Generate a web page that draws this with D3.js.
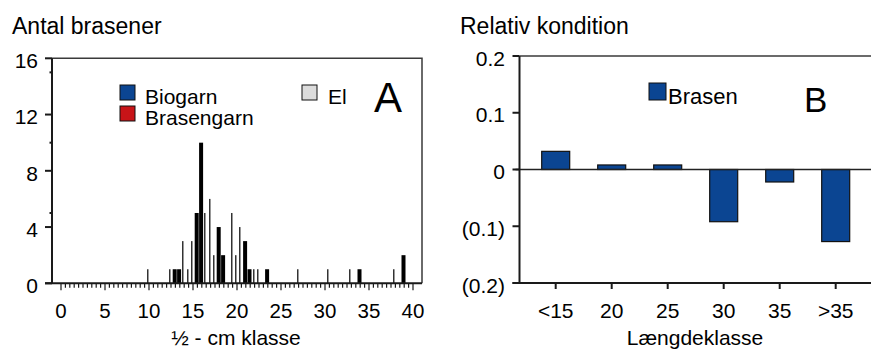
<!DOCTYPE html>
<html>
<head>
<meta charset="utf-8">
<script src="https://cdn.jsdelivr.net/npm/d3@7"></script>
<style>
  html, body { margin: 0; padding: 0; background: #fff; }
  svg { display: block; font-family: "Liberation Sans", Arial, sans-serif; }
  .axis-line { stroke: #1a1a1a; stroke-width: 2; fill: none; }
  .frame { stroke: #3a3a3a; stroke-width: 1.5; fill: none; }
</style>
</head>
<body>
<svg id="chart" width="871" height="349"></svg>
<script>
// Panel A: number of bream per half-cm length class
const halfCmTicks = [0, 5, 10, 15, 20, 25, 30, 35, 40];
const countTicks = [0, 4, 8, 12, 16];
const countMinorTicks = [5, 10, 15];

const biogarnClass = [13, 13.5, 15.5, 16, 18, 18.5, 21, 21.5, 23.5, 34, 39];
const biogarnCount = [1, 1, 5, 10, 4, 2, 3, 1, 1, 1, 2];
const brasengarnClass = [];
const brasengarnCount = [];
const elClass = [10, 12.5, 14, 14.5, 15, 16.5, 17, 17.5, 19.5, 20, 20.5, 22, 22.5, 27, 30.5, 33, 38];
const elCount = [1, 1, 3, 1, 3, 5, 6, 2, 5, 2, 4, 1, 1, 1, 1, 1, 1];

// Panel B: relative condition per length class
const lengthClasses = ["<15", "20", "25", "30", "35", ">35"];
const relCondition = [0.032, 0.008, 0.008, -0.092, -0.022, -0.127];
const conditionTicks = [0.2, 0.1, 0, -0.1, -0.2];

const COLORS = {
  biogarn: "#0b4592",
  brasengarn: "#c81418",
  el: "#dcdcdc",
  brasen: "#0b4592"
};

const svg = d3.select("#chart");

function fmtCondition(v) {
  if (Math.abs(v) < 1e-9) return "0";
  return v < 0 ? `(${d3.format(".1f")(-v)})` : d3.format(".1f")(v);
}

function drawPanelA() {
  const x = d3.scaleLinear().domain([0, 40]).range([61, 413]);
  const y = d3.scaleLinear().domain([0, 16]).range([283.3, 58.3]);
  const left = 52, right = 422;
  const g = svg.append("g");

  g.append("text").attr("x", 12).attr("y", 34).attr("font-size", 23).text("Antal brasener");

  // frame
  g.append("path").attr("class", "frame")
    .attr("d", `M${left},${y(16)}H${right}V${y(0)}`);

  // El bars are very thin, so they read as grey lines
  const elData = elClass.map((c, i) => ({ c, n: elCount[i] }));
  g.selectAll(".el").data(elData).enter().append("rect")
    .attr("class", "el")
    .attr("x", (d) => Math.round(x(d.c) - 2))
    .attr("width", 1.5)
    .attr("y", (d) => y(d.n))
    .attr("height", (d) => y(0) - y(d.n))
    .attr("fill", "#333");

  const bioData = biogarnClass.map((c, i) => ({ c, n: biogarnCount[i] }));
  g.selectAll(".bio").data(bioData).enter().append("rect")
    .attr("class", "bio")
    .attr("x", (d) => x(d.c) - 2.7)
    .attr("width", 4)
    .attr("y", (d) => y(d.n))
    .attr("height", (d) => y(0) - y(d.n))
    .attr("fill", "#000");

  const brData = brasengarnClass.map((c, i) => ({ c, n: brasengarnCount[i] }));
  g.selectAll(".bras").data(brData).enter().append("rect")
    .attr("x", (d) => x(d.c) - 1)
    .attr("width", 1.4)
    .attr("y", (d) => y(d.n))
    .attr("height", (d) => y(0) - y(d.n))
    .attr("fill", COLORS.brasengarn);

  // y axis
  g.append("line").attr("class", "axis-line")
    .attr("x1", left).attr("x2", left).attr("y1", y(16)).attr("y2", y(0));
  g.selectAll(".ytick").data(countTicks).enter().append("line")
    .attr("class", "axis-line")
    .attr("x1", left - 7).attr("x2", left)
    .attr("y1", (d) => y(d)).attr("y2", (d) => y(d));
  g.selectAll(".yminor").data(countMinorTicks).enter().append("line")
    .attr("class", "axis-line")
    .attr("x1", left - 2.5).attr("x2", left)
    .attr("y1", (d) => y(d)).attr("y2", (d) => y(d));
  g.selectAll(".ylab").data(countTicks).enter().append("text")
    .attr("x", 38).attr("y", (d) => y(d) + 9.7)
    .attr("text-anchor", "end").attr("font-size", 21)
    .text((d) => d);

  // x axis with half-cm ticks
  g.append("line").attr("class", "axis-line")
    .attr("x1", left - 7).attr("x2", right).attr("y1", y(0)).attr("y2", y(0));
  const minor = d3.range(0, 40.01, 0.5);
  g.selectAll(".xtick").data(minor).enter().append("line")
    .attr("stroke", "#1a1a1a").attr("stroke-width", 1.2)
    .attr("x1", (d) => x(d)).attr("x2", (d) => x(d))
    .attr("y1", y(0))
    .attr("y2", (d) => y(0) + (d % 5 === 0 ? 7 : 4.5));
  g.selectAll(".xlab").data(halfCmTicks).enter().append("text")
    .attr("x", (d) => x(d)).attr("y", 318)
    .attr("text-anchor", "middle").attr("font-size", 20.5)
    .text((d) => d);

  g.append("text").attr("x", 236).attr("y", 345)
    .attr("text-anchor", "middle").attr("font-size", 21)
    .text("½ - cm klasse");

  // legend
  const legend = [
    { label: "Biogarn", color: COLORS.biogarn, x: 120, y: 85 },
    { label: "Brasengarn", color: COLORS.brasengarn, x: 120, y: 106 },
    { label: "El", color: COLORS.el, x: 302, y: 85 }
  ];
  legend.forEach((d) => {
    g.append("rect").attr("x", d.x).attr("y", d.y).attr("width", 15).attr("height", 15)
      .attr("fill", d.color).attr("stroke", "#111").attr("stroke-width", 1);
    g.append("text").attr("x", d.x + (d.label === "El" ? 26 : 25)).attr("y", d.y + 18.5)
      .attr("font-size", 21).text(d.label);
  });

  g.append("text").attr("x", 374).attr("y", 112).attr("font-size", 42).text("A");
}

function drawPanelB() {
  const x = d3.scaleBand().domain(lengthClasses).range([520, 871.4]).paddingOuter(0.1375);
  const y = d3.scaleLinear().domain([-0.2, 0.2]).range([283, 56]);
  const left = 519.5;
  const g = svg.append("g");

  g.append("text").attr("x", 460).attr("y", 33.5).attr("font-size", 23).text("Relativ kondition");

  // frame top
  g.append("line").attr("class", "frame")
    .attr("x1", left).attr("x2", 871).attr("y1", y(0.2)).attr("y2", y(0.2));

  const data = lengthClasses.map((c, i) => ({ c, v: relCondition[i] }));
  const bw = x.bandwidth() * 0.5;
  g.selectAll(".bar").data(data).enter().append("rect")
    .attr("x", (d) => x(d.c) + (x.bandwidth() - bw) / 2)
    .attr("width", bw)
    .attr("y", (d) => y(Math.max(0, d.v)))
    .attr("height", (d) => Math.abs(y(d.v) - y(0)))
    .attr("fill", COLORS.brasen)
    .attr("stroke", "#111").attr("stroke-width", 1.2);

  // zero line
  g.append("line").attr("stroke", "#222").attr("stroke-width", 1.6)
    .attr("x1", left - 4).attr("x2", 871).attr("y1", y(0)).attr("y2", y(0));

  // y axis
  g.append("line").attr("class", "axis-line")
    .attr("x1", left).attr("x2", left).attr("y1", y(0.2)).attr("y2", y(-0.2));
  g.selectAll(".ytick").data(conditionTicks).enter().append("line")
    .attr("class", "axis-line")
    .attr("x1", left - 7).attr("x2", left)
    .attr("y1", (d) => y(d)).attr("y2", (d) => y(d));
  g.selectAll(".ylab").data(conditionTicks).enter().append("text")
    .attr("x", 505).attr("y", (d) => y(d) + 9.5)
    .attr("text-anchor", "end").attr("font-size", 21)
    .text(fmtCondition);

  // x axis
  g.append("line").attr("class", "axis-line")
    .attr("x1", left - 7).attr("x2", 871).attr("y1", y(-0.2)).attr("y2", y(-0.2));
  g.selectAll(".xtick").data(lengthClasses).enter().append("line")
    .attr("class", "axis-line")
    .attr("x1", (d) => x(d) + x.bandwidth() / 2).attr("x2", (d) => x(d) + x.bandwidth() / 2)
    .attr("y1", y(-0.2)).attr("y2", y(-0.2) + 6);
  g.selectAll(".xlab").data(lengthClasses).enter().append("text")
    .attr("x", (d) => x(d) + x.bandwidth() / 2).attr("y", 318)
    .attr("text-anchor", "middle").attr("font-size", 21)
    .text((d) => d);

  g.append("text").attr("x", 695).attr("y", 345)
    .attr("text-anchor", "middle").attr("font-size", 21)
    .text("Længdeklasse");

  // legend
  g.append("rect").attr("x", 649).attr("y", 83).attr("width", 17).attr("height", 17)
    .attr("fill", COLORS.brasen).attr("stroke", "#111").attr("stroke-width", 1);
  g.append("text").attr("x", 668).attr("y", 104).attr("font-size", 22).text("Brasen");

  g.append("text").attr("x", 804).attr("y", 112).attr("font-size", 35).text("B");
}

drawPanelA();
drawPanelB();
</script>
</body>
</html>
